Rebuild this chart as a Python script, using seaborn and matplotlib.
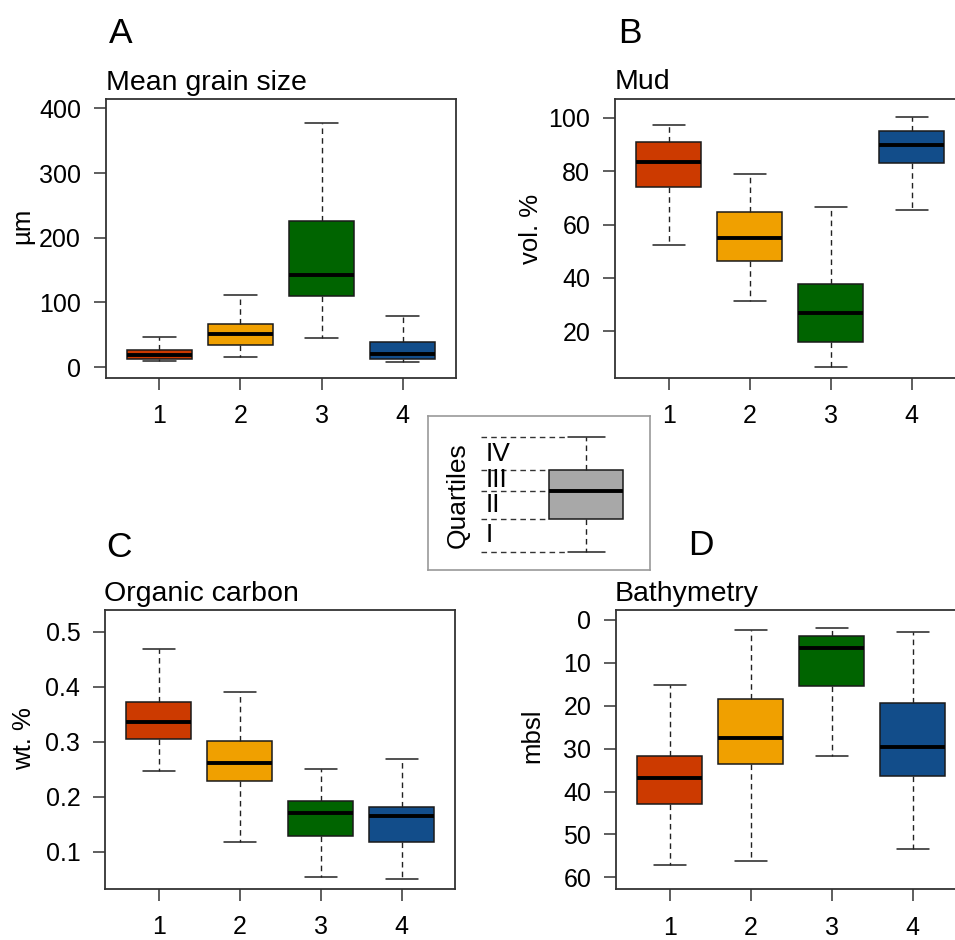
import matplotlib
matplotlib.use("Agg")
import matplotlib.pyplot as plt
import seaborn as sns
import pandas as pd

# ---------------- data (five-number summaries: min, Q1, median, Q3, max) ----------------
categories = ["1", "2", "3", "4"]
colors = ["#CC3A00", "#F0A000", "#006400", "#124D8A"]

grain_size = [[9.3, 12.4, 18.0, 26.3, 46.0],
              [15.5, 34.0, 51.0, 66.5, 112.0],
              [45.4, 110.0, 142.0, 226.0, 377.5],
              [7.2, 12.4, 20.0, 38.7, 78.5]]
mud = [[52.5, 74.0, 83.5, 90.9, 97.5],
       [31.4, 46.5, 55.1, 64.6, 79.0],
       [6.6, 16.1, 27.0, 37.6, 66.6],
       [65.5, 83.0, 89.75, 95.1, 100.3]]
organic_carbon = [[0.247, 0.304, 0.336, 0.372, 0.468],
                  [0.118, 0.228, 0.262, 0.302, 0.390],
                  [0.054, 0.129, 0.170, 0.192, 0.251],
                  [0.051, 0.118, 0.165, 0.182, 0.268]]
bathymetry = [[15.2, 31.8, 36.9, 43.0, 57.1],
              [2.25, 18.5, 27.5, 33.5, 56.3],
              [1.8, 3.7, 6.45, 15.5, 31.6],
              [2.7, 19.4, 29.6, 36.4, 53.4]]

titles = ["Mean grain size", "Mud", "Organic carbon", "Bathymetry"]
panel_letters = ["A", "B", "C", "D"]
ylabels = ["µm", "vol. %", "wt. %", "mbsl"]
yticks_A = [0, 100, 200, 300, 400]
yticks_B = [20, 40, 60, 80, 100]
yticks_C = [0.1, 0.2, 0.3, 0.4, 0.5]
yticklabels_C = ["0.1", "0.2", "0.3", "0.4", "0.5"]
yticks_D = [0, 10, 20, 30, 40, 50, 60]

legend_values = [18.3, 50.7, 79.3, 100.0, 132.7]
legend_labels = ["I", "II", "III", "IV"]
legend_title = "Quartiles"

# ---------------- style ----------------
sns.set_theme(style="ticks")
plt.rcParams["font.family"] = ["Liberation Sans", "DejaVu Sans"]
plt.rcParams["text.color"] = "black"
plt.rcParams["axes.labelcolor"] = "black"
plt.rcParams["xtick.color"] = "black"
plt.rcParams["ytick.color"] = "black"

W, H = 955, 940
fig = plt.figure(figsize=(W / 100, H / 100), dpi=100)

SPINE = "#333333"
TICK_FS = 18
TITLE_FS = 20.5
LETTER_FS = 25.5
YLAB_FS = 18.5
LEG_FS = 19


def frac_rect(x0, y0, x1, y1):
    return [x0 / W, 1 - y1 / H, (x1 - x0) / W, (y1 - y0) / H]


def to_long(summary):
    rows = []
    for cat, vals in zip(categories, summary):
        for v in vals:
            rows.append({"group": cat, "value": v})
    return pd.DataFrame(rows)


box_kws = dict(
    width=0.8, whis=(0, 100), saturation=1, linecolor="black", linewidth=1.1,
    medianprops=dict(color="black", linewidth=2.8),
    whiskerprops=dict(color="#222222", linestyle=(0, (4, 3)), linewidth=1.0),
    capprops=dict(color="#222222", linewidth=1.1),
    boxprops=dict(edgecolor="#1a1a1a"),
)

panels = [
    (grain_size, frac_rect(106, 99.3, 456, 377.7), (-16.5, 414), yticks_A, None),
    (mud, frac_rect(615.3, 99.3, 965.3, 377.7), (2.6, 107), yticks_B, None),
    (organic_carbon, frac_rect(105.3, 610.3, 455.3, 889), (0.032, 0.539), yticks_C, yticklabels_C),
    (bathymetry, frac_rect(616.3, 610, 966.3, 889.3), (62.8, -2.33), yticks_D, None),
]

for summary, rect, ylim, yt, ytl in panels:
    ax = fig.add_axes(rect)
    df = to_long(summary)
    sns.boxplot(data=df, x="group", y="value", hue="group", order=categories,
                hue_order=categories, palette=colors, legend=False, ax=ax, **box_kws)
    ax.set_xlim(-0.66, 3.66)
    ax.set_ylim(*ylim)
    ax.set_yticks(yt)
    if ytl is not None:
        ax.set_yticklabels(ytl)
    ax.set_xlabel("")
    ax.set_ylabel("")
    for s in ax.spines.values():
        s.set_visible(True)
        s.set_color(SPINE)
        s.set_linewidth(1.3)
    ax.tick_params(axis="both", direction="out", length=8.5, width=1.1, color=SPINE,
                   labelsize=TICK_FS, labelcolor="black")
    ax.tick_params(axis="y", pad=9.5)
    ax.tick_params(axis="x", pad=10.5)
    ax.grid(False)

# titles, letters, y-labels (figure pixel positions)
title_pos = [(106, 90), (615, 89.3), (104, 601), (615, 601)]
letter_pos = [(109, 43.3), (617.7, 43.3), (106.7, 556.7), (688.3, 555)]
ylab_pos = [(22.5, 226), (530.8, 229), (23.7, 739), (532.5, 736)]
for t, (x, y) in zip(titles, title_pos):
    fig.text(x / W, 1 - y / H, t, fontsize=TITLE_FS, ha="left", va="baseline")
for t, (x, y) in zip(panel_letters, letter_pos):
    fig.text(x / W, 1 - y / H, t, fontsize=LETTER_FS, ha="left", va="baseline")
for t, (x, y) in zip(ylabels, ylab_pos):
    fig.text(x / W, 1 - y / H, t, fontsize=YLAB_FS, ha="center", va="center", rotation=90)

# ---------------- quartile legend inset ----------------
lax = fig.add_axes(frac_rect(428.3, 415.7, 650, 570))
sns.boxplot(y=legend_values, color="#A8A8A8", ax=lax, **box_kws)
lax.set_xlim(-1.708, 0.689)
lax.set_ylim(0, 154.3)
lax.set_xticks([])
lax.set_yticks([])
lax.set_xlabel("")
lax.set_ylabel("")
for s in lax.spines.values():
    s.set_visible(True)
    s.set_color("#9a9a9a")
    s.set_linewidth(1.2)
line_ends = [-0.2, -0.4, -0.4, -0.4, -0.2]
for v, xe in zip(legend_values, line_ends):
    lax.plot([-1.138, xe], [v, v], color="#333333", linestyle=(0, (4, 3)), linewidth=1.0)
for i, lab in enumerate(legend_labels):
    ymid = (legend_values[i] + legend_values[i + 1]) / 2
    lax.text(-1.09, ymid, lab, fontsize=LEG_FS, ha="left", va="center")
lax.text(-1.392, (legend_values[0] + legend_values[-1]) / 2 - 0.5, legend_title,
         fontsize=LEG_FS, rotation=90, ha="center", va="center")

fig.savefig("out.png", dpi=100)
